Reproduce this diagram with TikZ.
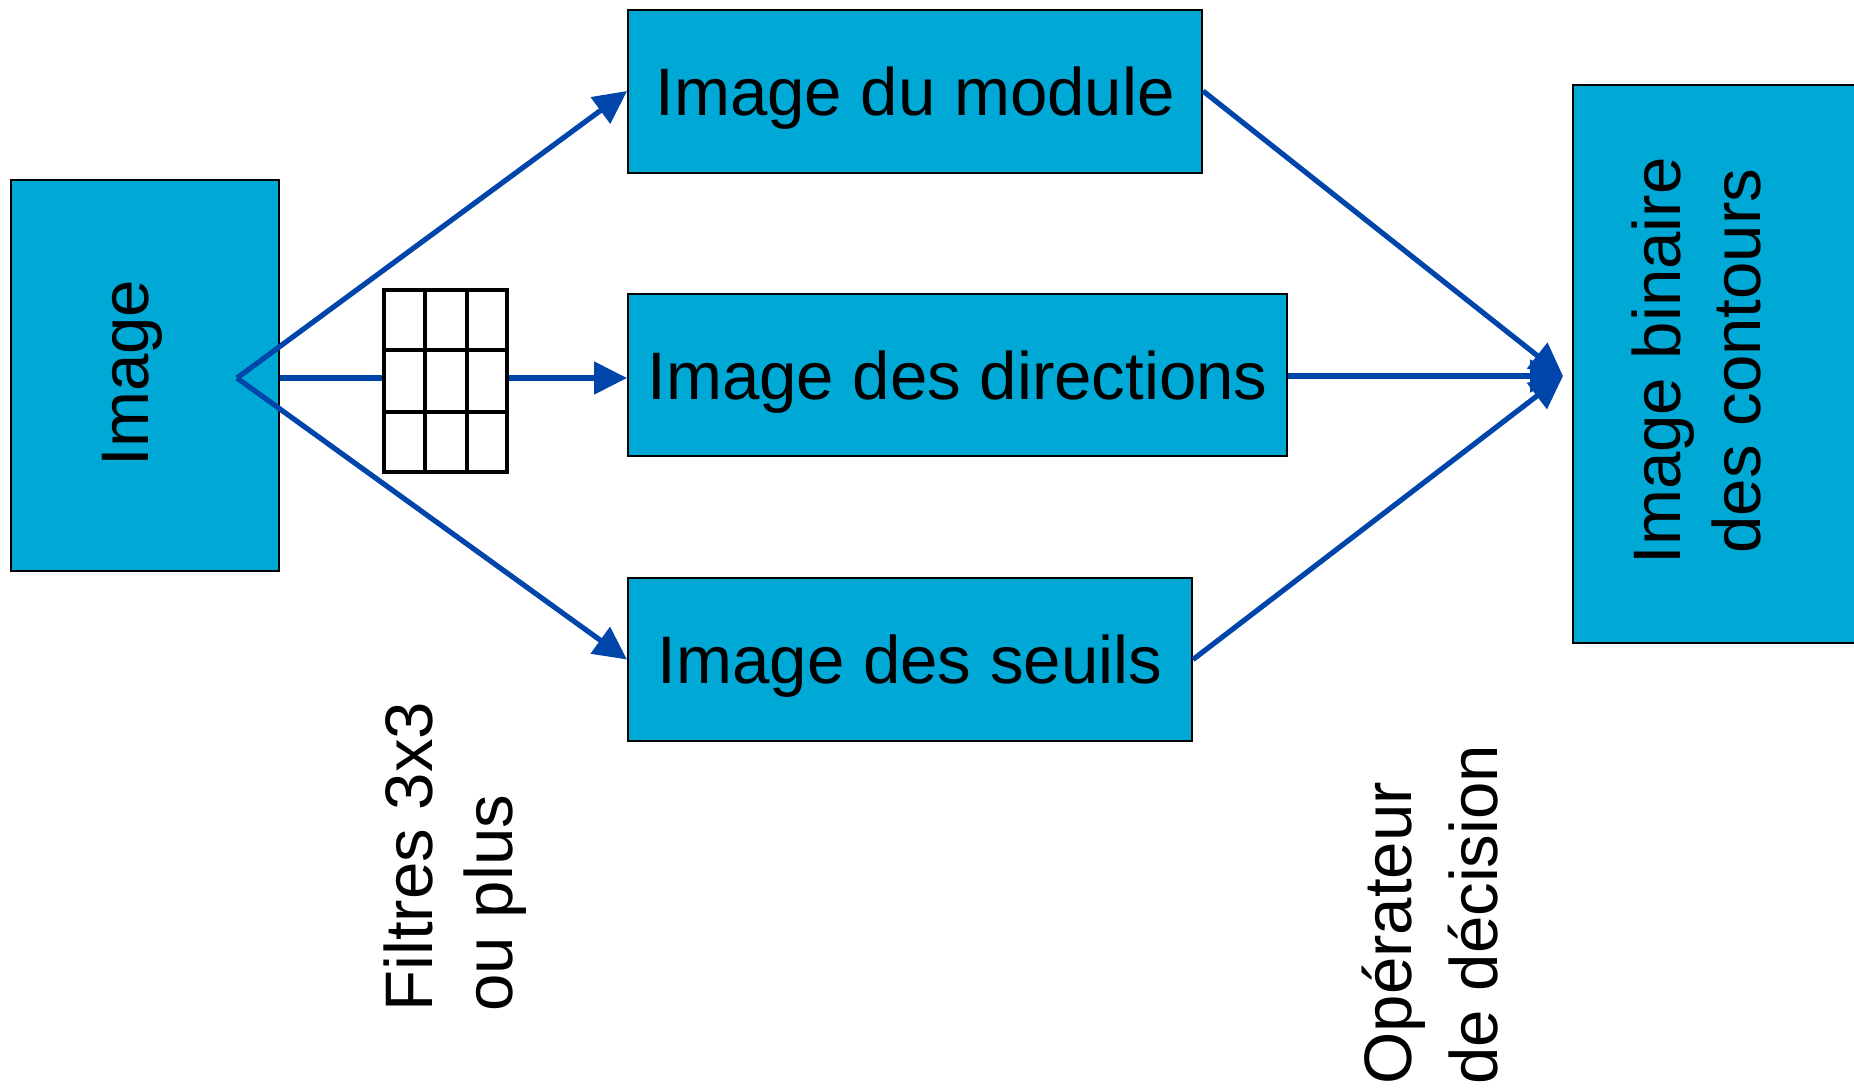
\documentclass[tikz,border=0pt]{standalone}
\usepackage{fontspec}
\setmainfont{Liberation Sans}
\usetikzlibrary{arrows.meta,positioning}

\definecolor{cyanboite}{RGB}{0,168,214}
\definecolor{bleufleche}{RGB}{0,70,170}

\tikzset{
  boite/.style={draw=black, line width=1pt, fill=cyanboite, inner sep=0pt},
  titre/.style={text height=24pt, text depth=0pt},
  vertical/.style={rotate=90, inner sep=0pt},
  trait/.style={draw=bleufleche, line width=2.6pt},
  fleche/.style={trait, -{Triangle[length=16.5pt,width=16pt]}},
  grille/.style={draw=black, line width=2.4pt, fill=white, inner sep=0pt}
}

\begin{document}
\begin{tikzpicture}[x=0.5pt, y=-0.5pt, font=\fontsize{33.6pt}{40pt}\selectfont]
    \useasboundingbox (0,0) rectangle (1854,1088);
    % boxes
    \node[boite, minimum width=134pt, minimum height=195.5pt] (img) at (145,375.5) {};
    \node[vertical, anchor=base] (img-txt) at (148,373) {Image};
    \node[boite, titre, minimum width=287pt, minimum height=81.5pt] (mod) at (915,91) {Image du module};
    \node[boite, titre, minimum width=329.5pt, minimum height=81pt] (dir) at (957.5,375) {Image des directions};
    \node[boite, titre, minimum width=282pt, minimum height=81.5pt] (seu) at (910,659.5) {Image des seuils};
    \node[boite, minimum width=148.5pt, minimum height=279pt] (res) at (1721.5,364) {};
    \node[vertical, align=center, anchor=base] (res-txt) at (1760,361) {Image binaire\\des contours};
    % branching point and meeting point of the arrows
    \coordinate (jct) at (237,378);
    \coordinate (cible) at (1563,376);
    % left-hand arrows
    \draw[fleche] (jct) -- (mod.west);
    \draw[fleche] (jct) -- (seu.west);
    \draw[trait] (jct -| img.east) -- (jct -| 384,0);
    % 3x3 filter mask
    \node[grille, minimum width=61.5pt, minimum height=91pt] (filtre) at (445.5,381) {};
    \foreach \gx in {425,467} \draw[line width=2.4pt] (\gx,290) -- (\gx,472);
    \foreach \gy in {350,412} \draw[line width=2.4pt] (384,\gy) -- (507,\gy);
    \draw[fleche] (jct -| filtre.east) -- (jct -| dir.west);
    % right-hand arrows
    \draw[fleche] (mod.east) -- (cible);
    \draw[fleche] (dir.east |- cible) -- (cible);
    \draw[fleche] (seu.east) -- (cible);
    % captions
    \node[vertical, align=left, anchor=base west, font=\fontsize{33.6pt}{40pt}\selectfont] (filtres-txt) at (512,1012) {Filtres 3x3\\ou plus};
    \node[vertical, align=left, anchor=base west, font=\fontsize{33.6pt}{43pt}\selectfont] (decision-txt) at (1497,1085) {Opérateur\\de décision};
\end{tikzpicture}
\end{document}
